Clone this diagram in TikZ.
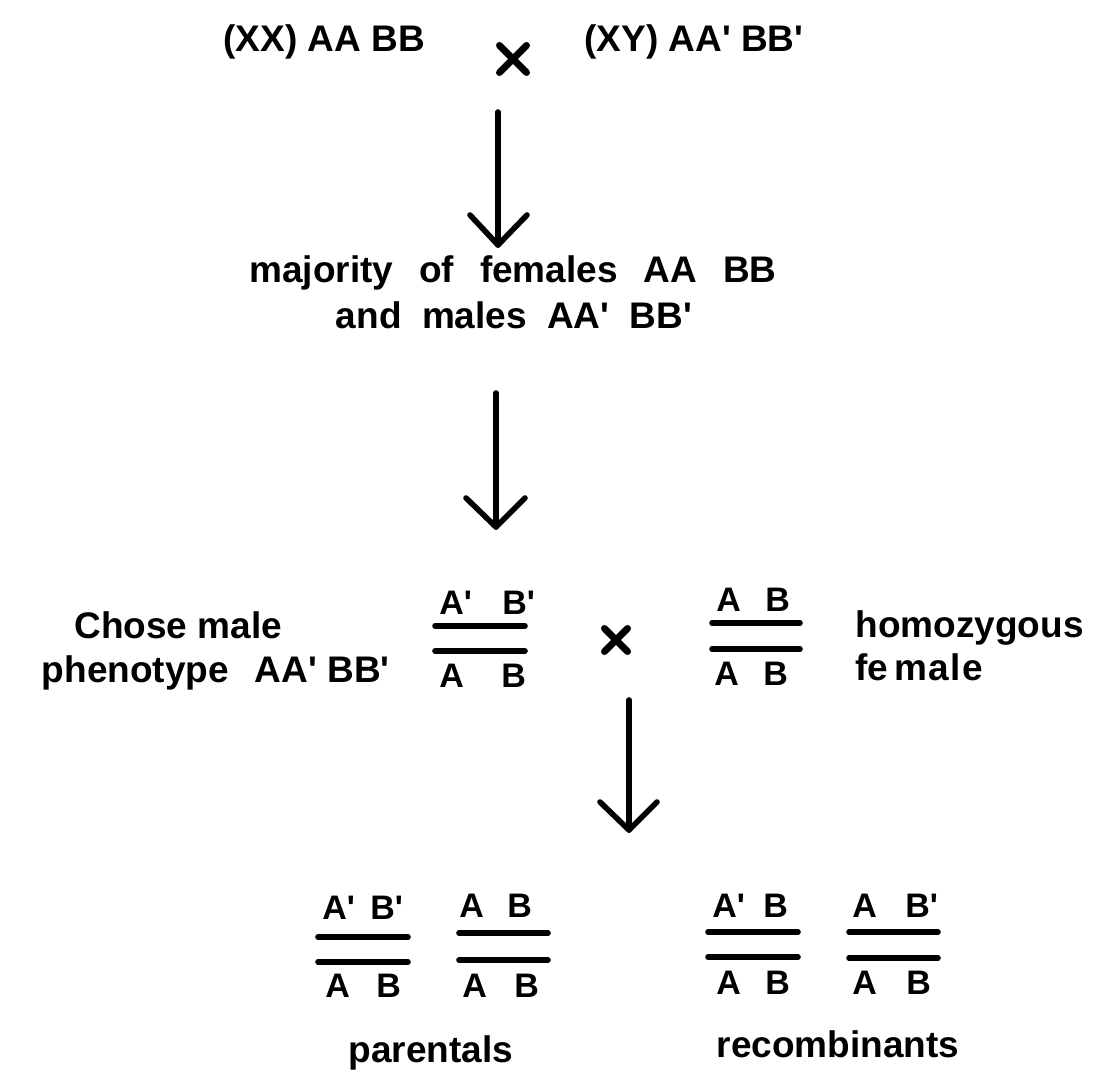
\documentclass[tikz,border=0pt]{standalone}
\usepackage{fontspec}
\setmainfont{Liberation Sans}
\usetikzlibrary{calc}
\newcommand{\pq}{\textquotesingle}
\newcommand{\ws}{\hspace{0.7em}}
\newcommand{\wt}{\hspace{0.55em}}
\begin{document}
\begin{tikzpicture}[x=0.5pt,y=-0.5pt,
  txt/.style={inner sep=0pt, font=\fontsize{18.5}{22}\selectfont\bfseries},
  gl/.style={inner sep=0pt, anchor=base west, font=\fontsize{17}{20}\selectfont\bfseries},
  bar/.style={line width=2.8pt, line cap=round},
  arr/.style={line width=2.8pt, line cap=round, line join=round},
  crossmark/.style={inner sep=0pt, minimum width=#1, minimum height=#1,
    path picture={\draw[line width=3.4pt, line cap=round]
      ([shift={(1.7pt,-1.7pt)}]path picture bounding box.north west) --
      ([shift={(-1.7pt,1.7pt)}]path picture bounding box.south east)
      ([shift={(1.7pt,1.7pt)}]path picture bounding box.south west) --
      ([shift={(-1.7pt,-1.7pt)}]path picture bounding box.north east);}}
]
\fill[white] (0,0) rectangle (1093,1086);
\useasboundingbox (0,0) rectangle (1093,1086);

% top cross
\node[txt, anchor=base west] (p1) at (223,52) {(XX) AA BB};
\node[crossmark=17pt] (x1) at (513,59) {};
\node[txt, anchor=base west] (p2) at (584,52) {(XY) AA\pq\ BB\pq};

% arrow 1
\coordinate (a1s) at (498,112);
\coordinate (a1e) at (498,245);
\draw[arr] (a1s) -- (a1e);
\draw[arr] ($(a1e)+(-28,-30)$) -- (a1e) -- ($(a1e)+(29,-30)$);

% F1 text
\node[txt, anchor=base] (m1) at (513,282) {majority\ws of\ws females\ws AA\ws BB};
\node[txt, anchor=base] (m2) at (514,328) {and\wt males\wt AA\pq\wt BB\pq};

% arrow 2
\coordinate (a2s) at (496,393);
\coordinate (a2e) at (496,527);
\draw[arr] (a2s) -- (a2e);
\draw[arr] ($(a2e)+(-30,-29)$) -- (a2e) -- ($(a2e)+(29,-29)$);

% middle row
\node[txt, anchor=base west] (c1) at (74,638) {Chose male};
\node[txt, anchor=base east] (c2) at (390,682) {phenotype\ws AA\pq\ BB\pq};

\node[gl] (ma1) at (439,614) {A\pq};
\node[gl] (mb1) at (502,614) {B\pq};
\draw[bar] (435,626) -- (525,626);
\draw[bar] (435,651) -- (525,651);
\node[gl] (ma2) at (439,687) {A};
\node[gl] (mb2) at (501,687) {B};

\node[crossmark=15pt] (x2) at (616,640) {};

\node[gl] (na1) at (716,611) {A};
\node[gl] (nb1) at (765,611) {B};
\draw[bar] (712,623) -- (800,623);
\draw[bar] (712,649) -- (800,649);
\node[gl] (na2) at (714,685) {A};
\node[gl] (nb2) at (763,685) {B};

\node[txt, anchor=base west] (h1) at (855,637) {homozygous};
\node[txt, anchor=base west] (h2) at (855,680) {fe\hspace{0.18em}m\hspace{0.03em}a\hspace{0.03em}l\hspace{0.03em}e};

% arrow 3
\coordinate (a3s) at (629,700);
\coordinate (a3e) at (629,830);
\draw[arr] (a3s) -- (a3e);
\draw[arr] ($(a3e)+(-29,-28)$) -- (a3e) -- ($(a3e)+(28,-28)$);

% bottom fractions
\node[gl] (f1a) at (322,919) {A\pq};
\node[gl] (f1b) at (370,919) {B\pq};
\draw[bar] (318,937) -- (408,937);
\draw[bar] (318,962) -- (408,962);
\node[gl] (f1c) at (325,997) {A};
\node[gl] (f1d) at (376,997) {B};

\node[gl] (f2a) at (459,917) {A};
\node[gl] (f2b) at (507,917) {B};
\draw[bar] (459,933) -- (548,933);
\draw[bar] (459,960) -- (548,960);
\node[gl] (f2c) at (462,997) {A};
\node[gl] (f2d) at (514,997) {B};

\node[gl] (f3a) at (712,917) {A\pq};
\node[gl] (f3b) at (763,917) {B};
\draw[bar] (708,932) -- (798,932);
\draw[bar] (708,957) -- (798,957);
\node[gl] (f3c) at (716,994) {A};
\node[gl] (f3d) at (765,994) {B};

\node[gl] (f4a) at (852,917) {A};
\node[gl] (f4b) at (905,917) {B\pq};
\draw[bar] (849,932) -- (938,932);
\draw[bar] (849,958) -- (938,958);
\node[gl] (f4c) at (852,994) {A};
\node[gl] (f4d) at (906,994) {B};

% labels
\node[txt, anchor=base] (lp) at (431,1062) {parentals};
\node[txt, anchor=base] (lr) at (838,1057) {recombinants};
\end{tikzpicture}
\end{document}
